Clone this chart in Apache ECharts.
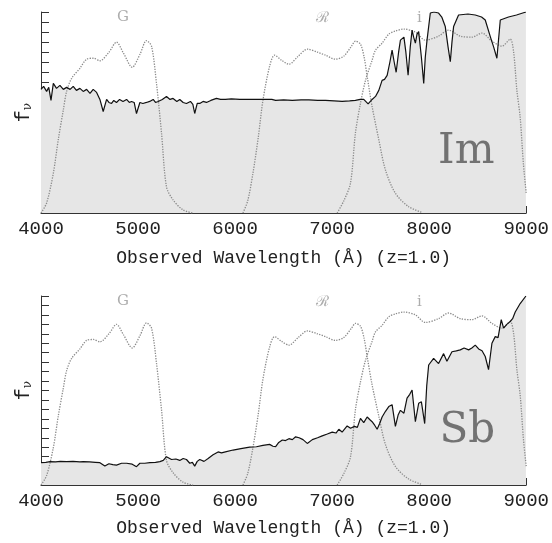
<!DOCTYPE html>
<html>
<head>
<meta charset="utf-8">
<script src="https://cdn.jsdelivr.net/npm/echarts@6/dist/echarts.min.js"></script>
<style>html,body{margin:0;padding:0;background:#fff;}#c{width:552px;height:543px;}</style>
</head>
<body>
<div id="c"></div>
<script>
// ---- data ----
const xTickLabels = ['4000','5000','6000','7000','8000','9000'];
const xTitle = 'Observed Wavelength (Å) (z=1.0)';
const panelNames = ['Im', 'Sb'];
const panelTextWl = [8383, 8393];
const panelTextVal = [6.1, 5.7];
const filterNames = ['G', 'ℛ', 'i'];
const filterLabelWl = [4844, 6901, 7899];
const filterLabelVal = [19.5, 19.4, 19.4];

const gFilterWl  = [4000,4058,4127,4178,4230,4264,4316,4401,4470,4540,4607,4700,4778,4850,4940,5020,5087,5139,5190,5242,5293,5361,5464,5567];
const gFilterVal = [0,1.0,3.95,7.3,10.25,12.1,13.4,14.4,15.3,15.4,15.15,16.0,17.0,15.9,14.5,15.8,17.15,16.6,12.9,7.95,2.6,1.3,0.3,0];

const rFilterWl  = [6081,6130,6184,6240,6287,6356,6407,6480,6555,6650,6744,6850,6932,7035,7120,7200,7240,7292,7330,7361,7412,7481,7549,7652,7789,7927];
const rFilterVal = [0,1.2,3.95,7.6,11.2,14.6,15.7,15.2,14.8,15.6,16.3,16.0,15.7,15.3,15.6,16.6,17.1,16.8,15.5,13.6,10.6,7.3,4.3,1.96,0.63,0.05];

const iFilterWl  = [7052,7120,7189,7240,7290,7344,7412,7447,7515,7584,7650,7738,7858,7961,8097,8200,8321,8441,8544,8647,8750,8835,8870,8904,8938,8972,9000];
const iFilterVal = [0,1.2,2.95,7.95,10.8,13.2,15.2,16.2,16.9,17.8,18.1,18.3,18.0,17.2,17.6,18.2,17.6,17.5,17.9,17.1,16.6,17.3,16.05,12.2,9.5,4.8,2.0];

const imWl = [4000,4027,4058,4080,4103,4127,4160,4195,4230,4264,4300,4332,4365,4401,4435,4470,4505,4538,4573,4607,4641,4676,4700,4727,4750,4778,4810,4845,4882,4910,4933,4960,4984,5019,5050,5087,5120,5156,5180,5207,5250,5293,5330,5361,5400,5430,5465,5499,5540,5565,5584,5610,5636,5670,5705,5750,5808,5850,5900,5962,6050,6173,6300,6379,6418,6500,6590,6680,6761,6850,6932,7020,7103,7180,7240,7290,7326,7371,7412,7447,7481,7515,7540,7567,7595,7618,7640,7660,7685,7704,7740,7760,7783,7805,7824,7840,7858,7875,7892,7920,7944,7960,7978,8012,8050,8097,8130,8166,8195,8218,8235,8252,8303,8400,8475,8540,8578,8630,8665,8698,8733,8750,8818,8900,8997];
const imVal = [12.3,12.6,12.1,12.5,11.2,12.9,12.4,12.7,12.3,12.5,12.3,12.6,12.2,12.4,12.1,12.3,11.9,12.3,12.0,11.3,10.1,11.3,11.0,10.9,11.2,11.0,11.3,11.1,11.3,11.0,11.1,11.0,9.9,11.0,10.9,11.0,11.1,11.3,11.0,11.1,11.3,11.6,11.3,11.4,11.1,11.3,11.0,10.9,11.1,10.8,9.9,10.9,10.9,11.1,11.0,11.2,11.4,11.3,11.3,11.35,11.3,11.3,11.3,11.3,11.2,11.25,11.2,11.25,11.25,11.2,11.2,11.15,11.1,11.15,11.2,11.3,11.3,10.85,11.3,11.6,12.2,13.2,13.3,13.7,15.0,16.2,15.0,14.0,16.0,17.2,17.5,16.0,13.7,16.5,18.2,17.5,16.9,17.8,18.05,15.5,12.9,15.5,17.2,19.9,20.0,19.9,19.5,18.55,16.5,15.05,17.0,18.55,19.7,19.8,19.7,19.5,19.2,17.55,16.5,15.4,19.2,19.35,19.5,19.7,20.0];

const sbWl = [4000,4050,4093,4150,4200,4264,4330,4400,4435,4500,4560,4607,4658,4700,4740,4778,4830,4882,4940,4984,5019,5070,5122,5180,5225,5260,5293,5345,5390,5430,5465,5499,5533,5560,5584,5610,5636,5680,5722,5773,5825,5860,5900,5979,6060,6150,6220,6287,6356,6390,6418,6450,6487,6520,6555,6590,6624,6660,6700,6744,6796,6850,6898,6950,7001,7040,7069,7103,7155,7190,7230,7260,7292,7326,7361,7390,7412,7440,7464,7490,7515,7550,7584,7618,7652,7680,7704,7740,7772,7800,7824,7858,7892,7920,7954,7975,7995,8046,8097,8149,8183,8235,8280,8321,8360,8407,8440,8475,8510,8545,8578,8612,8647,8681,8710,8743,8767,8800,8835,8860,8887,8938,8997];
const sbVal = [2.36,2.4,2.47,2.45,2.5,2.47,2.5,2.45,2.47,2.45,2.4,2.36,2.0,2.25,2.15,2.1,2.3,2.3,2.2,1.94,2.3,2.3,2.36,2.4,2.47,2.6,3.0,2.7,2.75,2.6,2.8,2.7,2.3,2.4,2.0,2.5,2.7,2.5,2.8,3.2,3.5,3.4,3.5,3.7,3.85,4.0,4.05,4.2,4.3,4.1,4.05,4.5,4.76,4.7,4.9,4.8,5.1,5.0,4.8,4.4,4.8,5.0,5.2,5.4,5.6,5.5,5.9,5.6,6.25,6.0,6.2,6.1,7.05,6.6,7.2,6.9,6.7,6.3,5.9,6.5,7.2,7.8,8.3,8.5,6.2,7.4,7.9,7.6,9.2,9.6,10.05,6.7,8.65,8.8,6.5,10.5,12.7,13.4,12.85,13.9,13.1,14.1,14.2,14.3,14.5,14.3,14.5,14.8,14.4,14.2,13.6,12.2,15.0,15.7,15.6,17.5,16.6,17.0,17.3,17.6,18.3,19.2,20.0];

// ---- build ----
const zip = (a, b) => a.map((v, i) => [v, b[i]]);
const spectra = [zip(imWl, imVal), zip(sbWl, sbVal)];
const filters = [zip(gFilterWl, gFilterVal), zip(rFilterWl, rFilterVal), zip(iFilterWl, iFilterVal)];

const grids = [
  {left: 41, right: 25, top: 12, height: 201},
  {left: 41, right: 25, top: 296, height: 189}
];
const nameGaps = [36, 34];

const xAxes = grids.map((g, k) => ({
  type: 'value', gridIndex: k, min: 4000, max: 9000, interval: 1000,
  axisLine: {show: true, onZero: false, lineStyle: {color: '#333', width: 1}},
  axisTick: {show: true, inside: true, length: 7, lineStyle: {color: '#333'}},
  minorTick: {show: true, splitNumber: 5, length: 4, lineStyle: {color: '#333'}},
  splitLine: {show: false},
  axisLabel: {show: true, margin: 6, color: '#222', fontFamily: 'Liberation Mono', fontSize: 19,
    formatter: v => xTickLabels[Math.round((v - 4000) / 1000)] || ''},
  name: xTitle, nameLocation: 'middle', nameGap: nameGaps[k],
  nameTextStyle: {fontFamily: 'Liberation Mono', fontSize: 18, color: '#222'}
}));

const yAxes = grids.map((g, k) => ({
  type: 'value', gridIndex: k, min: 0, max: 20, interval: 1,
  axisLine: {show: true, lineStyle: {color: '#333', width: 1}},
  axisTick: {show: true, inside: true, length: 8, lineStyle: {color: '#333'}},
  splitLine: {show: false},
  axisLabel: {show: false},
  name: '{f|f}{n|ν}', nameLocation: 'middle', nameRotate: 90, nameGap: 7,
  nameTextStyle: {rich: {
    f: {fontFamily: 'Liberation Mono', fontSize: 20, color: '#222'},
    n: {fontFamily: 'DejaVu Serif', fontSize: 12, color: '#222', verticalAlign: 'bottom', padding: [9, 0, 0, 0]}
  }}
}));

const series = [];
for (let k = 0; k < 2; k++) {
  series.push({
    type: 'line', xAxisIndex: k, yAxisIndex: k, data: spectra[k], showSymbol: false, symbol: 'none',
    lineStyle: {width: 0}, areaStyle: {color: '#e6e6e6', opacity: 1}, z: 1, silent: true
  });
  filters.forEach(f => series.push({
    type: 'line', xAxisIndex: k, yAxisIndex: k, data: f, symbol: 'none', smooth: 0.3,
    lineStyle: {color: '#8a8a8a', width: 1.3, type: 'dotted'}, z: 2, silent: true
  }));
  series.push({
    type: 'line', xAxisIndex: k, yAxisIndex: k, data: spectra[k], symbol: 'none',
    lineStyle: {color: '#111', width: 1.2}, z: 3, silent: true
  });
  series.push({
    type: 'scatter', xAxisIndex: k, yAxisIndex: k, symbolSize: 0, silent: true, z: 4,
    data: filterNames.map((n, i) => ({name: n, value: [filterLabelWl[i], filterLabelVal[i]]})),
    label: {show: true, position: 'inside', formatter: p => p.name, fontFamily: 'DejaVu Serif', fontSize: 15, color: '#999'}
  });
  series.push({
    type: 'scatter', xAxisIndex: k, yAxisIndex: k, symbolSize: 0, silent: true, z: 4,
    data: [{name: panelNames[k], value: [panelTextWl[k], panelTextVal[k]]}],
    label: {show: true, position: 'inside', formatter: p => p.name, fontFamily: 'DejaVu Serif', fontSize: 42, color: '#555'}
  });
}

const chart = echarts.init(document.getElementById('c'), null, {renderer: 'canvas'});
chart.setOption({
  animation: false,
  backgroundColor: '#fff',
  grid: grids,
  xAxis: xAxes,
  yAxis: yAxes,
  series: series
});
</script>
</body>
</html>
